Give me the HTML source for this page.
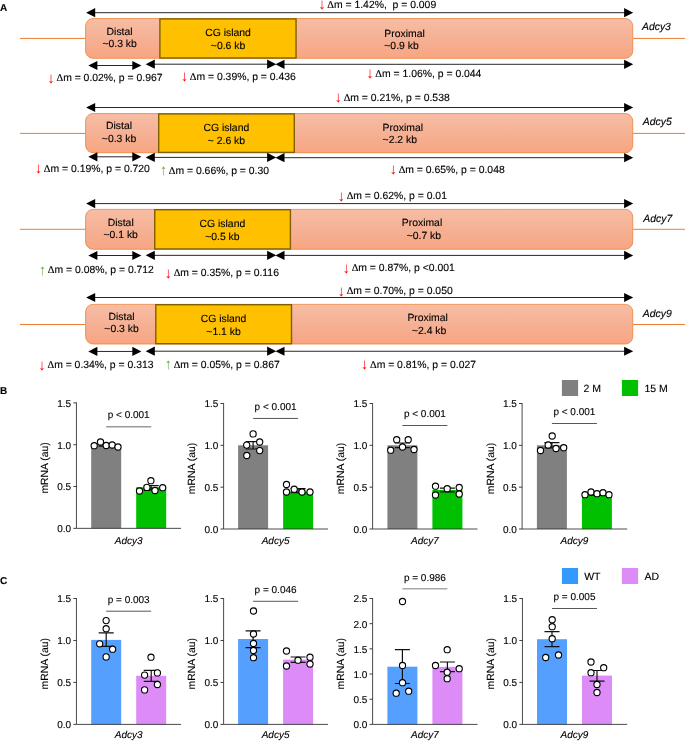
<!DOCTYPE html>
<html lang="en">
<head>
<meta charset="utf-8">
<title>Adcy methylation and mRNA figure</title>
<style>
html,body{margin:0;padding:0;background:#fff;}
body{width:685px;height:741px;overflow:hidden;}
svg{display:block;font-family:"Liberation Sans",Arial,sans-serif;text-rendering:geometricPrecision;}
text{stroke:#000;stroke-width:0.12px;}
</style>
</head>
<body>
<svg width="685" height="741" viewBox="0 0 685 741">
<defs>
<linearGradient id="og" x1="0" y1="0" x2="0" y2="1">
<stop offset="0" stop-color="#f7bda4"/><stop offset="0.5" stop-color="#f5b195"/><stop offset="1" stop-color="#f8a581"/>
</linearGradient>
</defs>
<rect x="0" y="0" width="685" height="741" fill="#fff"/>
<line x1="20" y1="38.4" x2="85.2" y2="38.4" stroke="#ed7d31" stroke-width="1"/>
<line x1="633.15" y1="38.4" x2="685" y2="38.4" stroke="#ed7d31" stroke-width="1"/>
<rect x="85.58" y="18.57" width="547.20" height="39.75" rx="7.5" fill="url(#og)" stroke="#ed7d31" stroke-width="0.75"/>
<rect x="159.90" y="18.90" width="136.15" height="39.10" fill="#ffc000" stroke="#7f6000" stroke-width="1.4"/>
<line x1="94.20" y1="12.70" x2="625.10" y2="12.70" stroke="#000" stroke-width="0.85"/>
<polygon points="86.10,12.70 95.20,8.10 95.20,17.30" fill="#000"/>
<polygon points="633.20,12.70 624.10,8.10 624.10,17.30" fill="#000"/>
<line x1="96.40" y1="65.50" x2="133.30" y2="65.50" stroke="#000" stroke-width="0.85"/>
<polygon points="88.30,65.50 97.40,60.90 97.40,70.10" fill="#000"/>
<polygon points="141.40,65.50 132.30,60.90 132.30,70.10" fill="#000"/>
<line x1="153.80" y1="64.20" x2="268.10" y2="64.20" stroke="#000" stroke-width="0.85"/>
<polygon points="145.70,64.20 154.80,59.60 154.80,68.80" fill="#000"/>
<polygon points="276.20,64.20 267.10,59.60 267.10,68.80" fill="#000"/>
<line x1="283.50" y1="64.30" x2="625.10" y2="64.30" stroke="#000" stroke-width="0.85"/>
<polygon points="275.40,64.30 284.50,59.70 284.50,68.90" fill="#000"/>
<polygon points="633.20,64.30 624.10,59.70 624.10,68.90" fill="#000"/>
<text x="119.60" y="35.10" font-size="10.4" text-anchor="middle" fill="#000"  >Distal</text>
<text x="119.60" y="47.45" font-size="10.4" text-anchor="middle" fill="#000"  >~0.3 kb</text>
<text x="228.00" y="35.90" font-size="10.4" text-anchor="middle" fill="#000"  >CG island</text>
<text x="228.00" y="48.50" font-size="10.4" text-anchor="middle" fill="#000"  >~0.6 kb</text>
<text x="384.30" y="36.85" font-size="10.4" text-anchor="start" fill="#000"  >Proximal</text>
<text x="384.30" y="49.40" font-size="10.4" text-anchor="start" fill="#000"  >~0.9 kb</text>
<text x="642.00" y="30.20" font-size="10.4" text-anchor="start" fill="#000" font-style="italic" >Adcy3</text>
<text y="7.65" font-size="10.4"><tspan x="318.15" y="9.05" font-size="15" fill="#ff0000" stroke="none">↓ </tspan><tspan x="327.25" y="7.65" font-family="Liberation Serif,serif">Δ</tspan>m = 1.42%,&#160; p = 0.009</text>
<text y="81.45" font-size="10.4"><tspan x="47.35" y="82.85" font-size="15" fill="#ff0000" stroke="none">↓ </tspan><tspan x="56.45" y="81.45" font-family="Liberation Serif,serif">Δ</tspan>m = 0.02%, p = 0.967</text>
<text y="79.95" font-size="10.4"><tspan x="180.65" y="81.35" font-size="15" fill="#ff0000" stroke="none">↓ </tspan><tspan x="189.75" y="79.95" font-family="Liberation Serif,serif">Δ</tspan>m = 0.39%, p = 0.436</text>
<text y="76.95" font-size="10.4"><tspan x="366.25" y="78.35" font-size="15" fill="#ff0000" stroke="none">↓ </tspan><tspan x="375.35" y="76.95" font-family="Liberation Serif,serif">Δ</tspan>m = 1.06%, p = 0.044</text>
<line x1="20" y1="133.4" x2="85.2" y2="133.4" stroke="#ed7d31" stroke-width="1"/>
<line x1="633.15" y1="133.4" x2="685" y2="133.4" stroke="#ed7d31" stroke-width="1"/>
<rect x="85.58" y="113.58" width="547.20" height="39.15" rx="7.5" fill="url(#og)" stroke="#ed7d31" stroke-width="0.75"/>
<rect x="158.70" y="113.90" width="135.60" height="38.50" fill="#ffc000" stroke="#7f6000" stroke-width="1.4"/>
<line x1="94.20" y1="107.50" x2="625.10" y2="107.50" stroke="#000" stroke-width="0.85"/>
<polygon points="86.10,107.50 95.20,102.90 95.20,112.10" fill="#000"/>
<polygon points="633.20,107.50 624.10,102.90 624.10,112.10" fill="#000"/>
<line x1="96.40" y1="156.80" x2="133.30" y2="156.80" stroke="#000" stroke-width="0.85"/>
<polygon points="88.30,156.80 97.40,152.20 97.40,161.40" fill="#000"/>
<polygon points="141.40,156.80 132.30,152.20 132.30,161.40" fill="#000"/>
<line x1="153.80" y1="157.40" x2="268.10" y2="157.40" stroke="#000" stroke-width="0.85"/>
<polygon points="145.70,157.40 154.80,152.80 154.80,162.00" fill="#000"/>
<polygon points="276.20,157.40 267.10,152.80 267.10,162.00" fill="#000"/>
<line x1="283.50" y1="157.70" x2="625.10" y2="157.70" stroke="#000" stroke-width="0.85"/>
<polygon points="275.40,157.70 284.50,153.10 284.50,162.30" fill="#000"/>
<polygon points="633.20,157.70 624.10,153.10 624.10,162.30" fill="#000"/>
<text x="119.00" y="129.40" font-size="10.4" text-anchor="middle" fill="#000"  >Distal</text>
<text x="119.00" y="141.75" font-size="10.4" text-anchor="middle" fill="#000"  >~0.3 kb</text>
<text x="226.40" y="130.90" font-size="10.4" text-anchor="middle" fill="#000"  >CG island</text>
<text x="226.40" y="143.50" font-size="10.4" text-anchor="middle" fill="#000"  >~ 2.6 kb</text>
<text x="382.60" y="130.65" font-size="10.4" text-anchor="start" fill="#000"  >Proximal</text>
<text x="382.60" y="142.90" font-size="10.4" text-anchor="start" fill="#000"  >~2.2 kb</text>
<text x="642.80" y="125.20" font-size="10.4" text-anchor="start" fill="#000" font-style="italic" >Adcy5</text>
<text y="100.75" font-size="10.4"><tspan x="334.55" y="102.15" font-size="15" fill="#ff0000" stroke="none">↓ </tspan><tspan x="343.65" y="100.75" font-family="Liberation Serif,serif">Δ</tspan>m = 0.21%, p = 0.538</text>
<text y="171.95" font-size="10.4"><tspan x="34.75" y="173.35" font-size="15" fill="#ff0000" stroke="none">↓ </tspan><tspan x="43.85" y="171.95" font-family="Liberation Serif,serif">Δ</tspan>m = 0.19%, p = 0.720</text>
<text y="173.95" font-size="10.4"><tspan x="159.65" y="175.35" font-size="15" fill="#70ad47" stroke="none">↑ </tspan><tspan x="168.75" y="173.95" font-family="Liberation Serif,serif">Δ</tspan>m = 0.66%, p = 0.30</text>
<text y="172.75" font-size="10.4"><tspan x="389.55" y="174.15" font-size="15" fill="#ff0000" stroke="none">↓ </tspan><tspan x="398.65" y="172.75" font-family="Liberation Serif,serif">Δ</tspan>m = 0.65%, p = 0.048</text>
<line x1="20" y1="229.3" x2="85.2" y2="229.3" stroke="#ed7d31" stroke-width="1"/>
<line x1="633.15" y1="229.3" x2="685" y2="229.3" stroke="#ed7d31" stroke-width="1"/>
<rect x="85.58" y="209.38" width="547.20" height="39.90" rx="7.5" fill="url(#og)" stroke="#ed7d31" stroke-width="0.75"/>
<rect x="154.75" y="209.70" width="135.65" height="39.25" fill="#ffc000" stroke="#7f6000" stroke-width="1.4"/>
<line x1="94.20" y1="203.60" x2="625.10" y2="203.60" stroke="#000" stroke-width="0.85"/>
<polygon points="86.10,203.60 95.20,199.00 95.20,208.20" fill="#000"/>
<polygon points="633.20,203.60 624.10,199.00 624.10,208.20" fill="#000"/>
<line x1="96.40" y1="255.50" x2="133.30" y2="255.50" stroke="#000" stroke-width="0.85"/>
<polygon points="88.30,255.50 97.40,250.90 97.40,260.10" fill="#000"/>
<polygon points="141.40,255.50 132.30,250.90 132.30,260.10" fill="#000"/>
<line x1="153.80" y1="255.35" x2="268.10" y2="255.35" stroke="#000" stroke-width="0.85"/>
<polygon points="145.70,255.35 154.80,250.75 154.80,259.95" fill="#000"/>
<polygon points="276.20,255.35 267.10,250.75 267.10,259.95" fill="#000"/>
<line x1="283.50" y1="255.40" x2="625.10" y2="255.40" stroke="#000" stroke-width="0.85"/>
<polygon points="275.40,255.40 284.50,250.80 284.50,260.00" fill="#000"/>
<polygon points="633.20,255.40 624.10,250.80 624.10,260.00" fill="#000"/>
<text x="120.70" y="225.80" font-size="10.4" text-anchor="middle" fill="#000"  >Distal</text>
<text x="120.70" y="238.45" font-size="10.4" text-anchor="middle" fill="#000"  >~0.1 kb</text>
<text x="222.40" y="227.20" font-size="10.4" text-anchor="middle" fill="#000"  >CG island</text>
<text x="222.40" y="239.70" font-size="10.4" text-anchor="middle" fill="#000"  >~0.5 kb</text>
<text x="422.00" y="225.85" font-size="10.4" text-anchor="middle" fill="#000"  >Proximal</text>
<text x="423.90" y="238.80" font-size="10.4" text-anchor="middle" fill="#000"  >~0.7 kb</text>
<text x="643.30" y="221.90" font-size="10.4" text-anchor="start" fill="#000" font-style="italic" >Adcy7</text>
<text y="199.45" font-size="10.4"><tspan x="337.55" y="200.85" font-size="15" fill="#ff0000" stroke="none">↓ </tspan><tspan x="346.65" y="199.45" font-family="Liberation Serif,serif">Δ</tspan>m = 0.62%, p = 0.01</text>
<text y="273.45" font-size="10.4"><tspan x="38.75" y="274.85" font-size="15" fill="#70ad47" stroke="none">↑ </tspan><tspan x="47.85" y="273.45" font-family="Liberation Serif,serif">Δ</tspan>m = 0.08%, p = 0.712</text>
<text y="276.45" font-size="10.4"><tspan x="164.55" y="277.85" font-size="15" fill="#ff0000" stroke="none">↓ </tspan><tspan x="173.65" y="276.45" font-family="Liberation Serif,serif">Δ</tspan>m = 0.35%, p = 0.116</text>
<text y="271.25" font-size="10.4"><tspan x="342.55" y="272.65" font-size="15" fill="#ff0000" stroke="none">↓ </tspan><tspan x="351.65" y="271.25" font-family="Liberation Serif,serif">Δ</tspan>m = 0.87%, p &lt;0.001</text>
<line x1="20" y1="324.5" x2="85.2" y2="324.5" stroke="#ed7d31" stroke-width="1"/>
<line x1="633.15" y1="324.5" x2="685" y2="324.5" stroke="#ed7d31" stroke-width="1"/>
<rect x="85.58" y="304.38" width="547.20" height="39.65" rx="7.5" fill="url(#og)" stroke="#ed7d31" stroke-width="0.75"/>
<rect x="155.80" y="304.70" width="135.70" height="39.00" fill="#ffc000" stroke="#7f6000" stroke-width="1.4"/>
<line x1="94.20" y1="297.50" x2="625.10" y2="297.50" stroke="#000" stroke-width="0.85"/>
<polygon points="86.10,297.50 95.20,292.90 95.20,302.10" fill="#000"/>
<polygon points="633.20,297.50 624.10,292.90 624.10,302.10" fill="#000"/>
<line x1="96.40" y1="351.45" x2="133.30" y2="351.45" stroke="#000" stroke-width="0.85"/>
<polygon points="88.30,351.45 97.40,346.85 97.40,356.05" fill="#000"/>
<polygon points="141.40,351.45 132.30,346.85 132.30,356.05" fill="#000"/>
<line x1="153.80" y1="351.20" x2="268.10" y2="351.20" stroke="#000" stroke-width="0.85"/>
<polygon points="145.70,351.20 154.80,346.60 154.80,355.80" fill="#000"/>
<polygon points="276.20,351.20 267.10,346.60 267.10,355.80" fill="#000"/>
<line x1="283.50" y1="351.25" x2="625.10" y2="351.25" stroke="#000" stroke-width="0.85"/>
<polygon points="275.40,351.25 284.50,346.65 284.50,355.85" fill="#000"/>
<polygon points="633.20,351.25 624.10,346.65 624.10,355.85" fill="#000"/>
<text x="121.50" y="320.10" font-size="10.4" text-anchor="middle" fill="#000"  >Distal</text>
<text x="121.50" y="332.45" font-size="10.4" text-anchor="middle" fill="#000"  >~0.3 kb</text>
<text x="223.50" y="321.90" font-size="10.4" text-anchor="middle" fill="#000"  >CG island</text>
<text x="223.50" y="334.70" font-size="10.4" text-anchor="middle" fill="#000"  >~1.1 kb</text>
<text x="427.60" y="320.85" font-size="10.4" text-anchor="middle" fill="#000"  >Proximal</text>
<text x="429.10" y="333.80" font-size="10.4" text-anchor="middle" fill="#000"  >~2.4 kb</text>
<text x="642.80" y="317.20" font-size="10.4" text-anchor="start" fill="#000" font-style="italic" >Adcy9</text>
<text y="294.45" font-size="10.4"><tspan x="337.55" y="295.85" font-size="15" fill="#ff0000" stroke="none">↓ </tspan><tspan x="346.65" y="294.45" font-family="Liberation Serif,serif">Δ</tspan>m = 0.70%, p = 0.050</text>
<text y="368.45" font-size="10.4"><tspan x="38.35" y="369.85" font-size="15" fill="#ff0000" stroke="none">↓ </tspan><tspan x="47.45" y="368.45" font-family="Liberation Serif,serif">Δ</tspan>m = 0.34%, p = 0.313</text>
<text y="367.95" font-size="10.4"><tspan x="164.55" y="369.35" font-size="15" fill="#70ad47" stroke="none">↑ </tspan><tspan x="173.65" y="367.95" font-family="Liberation Serif,serif">Δ</tspan>m = 0.05%, p = 0.867</text>
<text y="367.95" font-size="10.4"><tspan x="360.85" y="369.35" font-size="15" fill="#ff0000" stroke="none">↓ </tspan><tspan x="369.95" y="367.95" font-family="Liberation Serif,serif">Δ</tspan>m = 0.81%, p = 0.027</text>
<text x="0.00" y="11.00" font-size="10" text-anchor="start" fill="#000" font-weight="bold" >A</text>
<text x="0.00" y="393.80" font-size="10" text-anchor="start" fill="#000" font-weight="bold" >B</text>
<text x="0.00" y="583.60" font-size="10" text-anchor="start" fill="#000" font-weight="bold" >C</text>
<rect x="91.2" y="445.0" width="30.00" height="83.35" fill="#808080"/>
<rect x="136.2" y="487.2" width="30.00" height="41.15" fill="#00c000"/>
<path d="M76.45 402.4V528.35H181" stroke="#2b2b2b" stroke-width="0.85" fill="none"/>
<line x1="73.35" y1="402.90" x2="76.45" y2="402.90" stroke="#2b2b2b" stroke-width="0.9"/>
<text x="71.15" y="406.75" font-size="10.0" text-anchor="end" fill="#000"  >1.5</text>
<line x1="73.35" y1="444.72" x2="76.45" y2="444.72" stroke="#2b2b2b" stroke-width="0.9"/>
<text x="71.15" y="448.57" font-size="10.0" text-anchor="end" fill="#000"  >1.0</text>
<line x1="73.35" y1="486.53" x2="76.45" y2="486.53" stroke="#2b2b2b" stroke-width="0.9"/>
<text x="71.15" y="490.38" font-size="10.0" text-anchor="end" fill="#000"  >0.5</text>
<line x1="73.35" y1="528.35" x2="76.45" y2="528.35" stroke="#2b2b2b" stroke-width="0.9"/>
<text x="71.15" y="532.20" font-size="10.0" text-anchor="end" fill="#000"  >0.0</text>
<text transform="translate(48.25,467.93) rotate(-90)" font-size="10.4" text-anchor="middle">mRNA (au)</text>
<path d="M98.70 443.6H113.70M98.70 446.2H113.70M106.20 443.6V446.2" stroke="#111" stroke-width="1.2" fill="none"/>
<path d="M143.70 485.6H158.70M143.70 490.2H158.70M151.20 485.6V490.2" stroke="#111" stroke-width="1.2" fill="none"/>
<circle cx="94.2" cy="445.7" r="3.1" fill="#fff" stroke="#000" stroke-width="1.1"/>
<circle cx="100.5" cy="442.0" r="3.1" fill="#fff" stroke="#000" stroke-width="1.1"/>
<circle cx="106.2" cy="445.5" r="3.1" fill="#fff" stroke="#000" stroke-width="1.1"/>
<circle cx="112.2" cy="445.0" r="3.1" fill="#fff" stroke="#000" stroke-width="1.1"/>
<circle cx="118.0" cy="447.0" r="3.1" fill="#fff" stroke="#000" stroke-width="1.1"/>
<circle cx="139.5" cy="491.0" r="3.1" fill="#fff" stroke="#000" stroke-width="1.1"/>
<circle cx="146.9" cy="487.4" r="3.1" fill="#fff" stroke="#000" stroke-width="1.1"/>
<circle cx="150.9" cy="480.7" r="3.1" fill="#fff" stroke="#000" stroke-width="1.1"/>
<circle cx="155.0" cy="490.5" r="3.1" fill="#fff" stroke="#000" stroke-width="1.1"/>
<circle cx="162.7" cy="487.7" r="3.1" fill="#fff" stroke="#000" stroke-width="1.1"/>
<line x1="106.20" y1="426.75" x2="151.20" y2="426.75" stroke="#999" stroke-width="1.3"/>
<text x="128.70" y="418.30" font-size="10.0" text-anchor="middle" fill="#000"  >p &lt; 0.001</text>
<text x="128.70" y="543.60" font-size="10.0" text-anchor="middle" fill="#000" font-style="italic" >Adcy3</text>
<rect x="238.1" y="445.3" width="30.00" height="83.70" fill="#808080"/>
<rect x="283.1" y="491.5" width="30.00" height="37.50" fill="#00c000"/>
<path d="M223.6 403.0V529.0H328" stroke="#2b2b2b" stroke-width="0.85" fill="none"/>
<line x1="220.50" y1="403.50" x2="223.6" y2="403.50" stroke="#2b2b2b" stroke-width="0.9"/>
<text x="218.30" y="407.35" font-size="10.0" text-anchor="end" fill="#000"  >1.5</text>
<line x1="220.50" y1="445.33" x2="223.6" y2="445.33" stroke="#2b2b2b" stroke-width="0.9"/>
<text x="218.30" y="449.18" font-size="10.0" text-anchor="end" fill="#000"  >1.0</text>
<line x1="220.50" y1="487.17" x2="223.6" y2="487.17" stroke="#2b2b2b" stroke-width="0.9"/>
<text x="218.30" y="491.02" font-size="10.0" text-anchor="end" fill="#000"  >0.5</text>
<line x1="220.50" y1="529.00" x2="223.6" y2="529.00" stroke="#2b2b2b" stroke-width="0.9"/>
<text x="218.30" y="532.85" font-size="10.0" text-anchor="end" fill="#000"  >0.0</text>
<text transform="translate(195.40,468.55) rotate(-90)" font-size="10.4" text-anchor="middle">mRNA (au)</text>
<path d="M245.60 441.6H260.60M245.60 449.0H260.60M253.10 441.6V449.0" stroke="#111" stroke-width="1.2" fill="none"/>
<path d="M290.60 488.6H305.60M290.60 492.6H305.60M298.10 488.6V492.6" stroke="#111" stroke-width="1.2" fill="none"/>
<circle cx="253.1" cy="433.9" r="3.1" fill="#fff" stroke="#000" stroke-width="1.1"/>
<circle cx="246.7" cy="445.1" r="3.1" fill="#fff" stroke="#000" stroke-width="1.1"/>
<circle cx="259.7" cy="442.0" r="3.1" fill="#fff" stroke="#000" stroke-width="1.1"/>
<circle cx="259.7" cy="450.6" r="3.1" fill="#fff" stroke="#000" stroke-width="1.1"/>
<circle cx="246.8" cy="455.5" r="3.1" fill="#fff" stroke="#000" stroke-width="1.1"/>
<circle cx="286.5" cy="484.5" r="3.1" fill="#fff" stroke="#000" stroke-width="1.1"/>
<circle cx="286.5" cy="492.0" r="3.1" fill="#fff" stroke="#000" stroke-width="1.1"/>
<circle cx="294.2" cy="489.2" r="3.1" fill="#fff" stroke="#000" stroke-width="1.1"/>
<circle cx="302.0" cy="492.0" r="3.1" fill="#fff" stroke="#000" stroke-width="1.1"/>
<circle cx="310.0" cy="492.0" r="3.1" fill="#fff" stroke="#000" stroke-width="1.1"/>
<line x1="253.10" y1="418.45" x2="298.10" y2="418.45" stroke="#3a3a3a" stroke-width="0.85"/>
<text x="275.60" y="410.20" font-size="10.0" text-anchor="middle" fill="#000"  >p &lt; 0.001</text>
<text x="275.60" y="543.80" font-size="10.0" text-anchor="middle" fill="#000" font-style="italic" >Adcy5</text>
<rect x="387.4" y="445.3" width="30.00" height="83.70" fill="#808080"/>
<rect x="432.4" y="490.0" width="30.00" height="39.00" fill="#00c000"/>
<path d="M372.6 403.0V529.0H477.5" stroke="#2b2b2b" stroke-width="0.85" fill="none"/>
<line x1="369.50" y1="403.50" x2="372.6" y2="403.50" stroke="#2b2b2b" stroke-width="0.9"/>
<text x="367.30" y="407.35" font-size="10.0" text-anchor="end" fill="#000"  >1.5</text>
<line x1="369.50" y1="445.33" x2="372.6" y2="445.33" stroke="#2b2b2b" stroke-width="0.9"/>
<text x="367.30" y="449.18" font-size="10.0" text-anchor="end" fill="#000"  >1.0</text>
<line x1="369.50" y1="487.17" x2="372.6" y2="487.17" stroke="#2b2b2b" stroke-width="0.9"/>
<text x="367.30" y="491.02" font-size="10.0" text-anchor="end" fill="#000"  >0.5</text>
<line x1="369.50" y1="529.00" x2="372.6" y2="529.00" stroke="#2b2b2b" stroke-width="0.9"/>
<text x="367.30" y="532.85" font-size="10.0" text-anchor="end" fill="#000"  >0.0</text>
<text transform="translate(344.40,468.55) rotate(-90)" font-size="10.4" text-anchor="middle">mRNA (au)</text>
<path d="M394.90 443.0H409.90M394.90 447.6H409.90M402.40 443.0V447.6" stroke="#111" stroke-width="1.2" fill="none"/>
<path d="M439.90 488.2H454.90M439.90 491.8H454.90M447.40 488.2V491.8" stroke="#111" stroke-width="1.2" fill="none"/>
<circle cx="396.7" cy="439.7" r="3.1" fill="#fff" stroke="#000" stroke-width="1.1"/>
<circle cx="408.2" cy="439.7" r="3.1" fill="#fff" stroke="#000" stroke-width="1.1"/>
<circle cx="402.5" cy="447.0" r="3.1" fill="#fff" stroke="#000" stroke-width="1.1"/>
<circle cx="390.7" cy="450.2" r="3.1" fill="#fff" stroke="#000" stroke-width="1.1"/>
<circle cx="414.0" cy="449.5" r="3.1" fill="#fff" stroke="#000" stroke-width="1.1"/>
<circle cx="435.5" cy="486.2" r="3.1" fill="#fff" stroke="#000" stroke-width="1.1"/>
<circle cx="435.5" cy="495.0" r="3.1" fill="#fff" stroke="#000" stroke-width="1.1"/>
<circle cx="447.2" cy="488.7" r="3.1" fill="#fff" stroke="#000" stroke-width="1.1"/>
<circle cx="459.2" cy="487.5" r="3.1" fill="#fff" stroke="#000" stroke-width="1.1"/>
<circle cx="459.2" cy="494.0" r="3.1" fill="#fff" stroke="#000" stroke-width="1.1"/>
<line x1="402.40" y1="425.5" x2="447.40" y2="425.5" stroke="#3a3a3a" stroke-width="0.85"/>
<text x="424.90" y="417.20" font-size="10.0" text-anchor="middle" fill="#000"  >p &lt; 0.001</text>
<text x="424.90" y="543.80" font-size="10.0" text-anchor="middle" fill="#000" font-style="italic" >Adcy7</text>
<rect x="536.9" y="445.3" width="30.00" height="83.70" fill="#808080"/>
<rect x="581.9" y="494.5" width="30.00" height="34.50" fill="#00c000"/>
<path d="M522.1 403.0V529.0H627.2" stroke="#2b2b2b" stroke-width="0.85" fill="none"/>
<line x1="519.00" y1="403.50" x2="522.1" y2="403.50" stroke="#2b2b2b" stroke-width="0.9"/>
<text x="516.80" y="407.35" font-size="10.0" text-anchor="end" fill="#000"  >1.5</text>
<line x1="519.00" y1="445.33" x2="522.1" y2="445.33" stroke="#2b2b2b" stroke-width="0.9"/>
<text x="516.80" y="449.18" font-size="10.0" text-anchor="end" fill="#000"  >1.0</text>
<line x1="519.00" y1="487.17" x2="522.1" y2="487.17" stroke="#2b2b2b" stroke-width="0.9"/>
<text x="516.80" y="491.02" font-size="10.0" text-anchor="end" fill="#000"  >0.5</text>
<line x1="519.00" y1="529.00" x2="522.1" y2="529.00" stroke="#2b2b2b" stroke-width="0.9"/>
<text x="516.80" y="532.85" font-size="10.0" text-anchor="end" fill="#000"  >0.0</text>
<text transform="translate(493.90,468.55) rotate(-90)" font-size="10.4" text-anchor="middle">mRNA (au)</text>
<path d="M544.40 442.6H559.40M544.40 448.0H559.40M551.90 442.6V448.0" stroke="#111" stroke-width="1.2" fill="none"/>
<path d="M589.40 493.4H604.40M589.40 495.2H604.40M596.90 493.4V495.2" stroke="#111" stroke-width="1.2" fill="none"/>
<circle cx="552.2" cy="436.0" r="3.1" fill="#fff" stroke="#000" stroke-width="1.1"/>
<circle cx="548.2" cy="445.0" r="3.1" fill="#fff" stroke="#000" stroke-width="1.1"/>
<circle cx="540.5" cy="450.5" r="3.1" fill="#fff" stroke="#000" stroke-width="1.1"/>
<circle cx="556.0" cy="448.5" r="3.1" fill="#fff" stroke="#000" stroke-width="1.1"/>
<circle cx="563.7" cy="447.7" r="3.1" fill="#fff" stroke="#000" stroke-width="1.1"/>
<circle cx="585.0" cy="494.7" r="3.1" fill="#fff" stroke="#000" stroke-width="1.1"/>
<circle cx="591.0" cy="492.0" r="3.1" fill="#fff" stroke="#000" stroke-width="1.1"/>
<circle cx="597.0" cy="493.7" r="3.1" fill="#fff" stroke="#000" stroke-width="1.1"/>
<circle cx="603.0" cy="492.7" r="3.1" fill="#fff" stroke="#000" stroke-width="1.1"/>
<circle cx="609.0" cy="494.7" r="3.1" fill="#fff" stroke="#000" stroke-width="1.1"/>
<line x1="551.90" y1="423.5" x2="596.90" y2="423.5" stroke="#3a3a3a" stroke-width="0.85"/>
<text x="574.40" y="415.30" font-size="10.0" text-anchor="middle" fill="#000"  >p &lt; 0.001</text>
<text x="574.40" y="543.80" font-size="10.0" text-anchor="middle" fill="#000" font-style="italic" >Adcy9</text>
<rect x="91.2" y="639.9" width="30.00" height="84.50" fill="#55a0ff"/>
<rect x="136.2" y="675.8" width="30.00" height="48.60" fill="#dd8bf7"/>
<path d="M76.45 598.0V724.4H181" stroke="#2b2b2b" stroke-width="0.85" fill="none"/>
<line x1="73.35" y1="598.50" x2="76.45" y2="598.50" stroke="#2b2b2b" stroke-width="0.9"/>
<text x="71.15" y="602.35" font-size="10.0" text-anchor="end" fill="#000"  >1.5</text>
<line x1="73.35" y1="640.47" x2="76.45" y2="640.47" stroke="#2b2b2b" stroke-width="0.9"/>
<text x="71.15" y="644.32" font-size="10.0" text-anchor="end" fill="#000"  >1.0</text>
<line x1="73.35" y1="682.43" x2="76.45" y2="682.43" stroke="#2b2b2b" stroke-width="0.9"/>
<text x="71.15" y="686.28" font-size="10.0" text-anchor="end" fill="#000"  >0.5</text>
<line x1="73.35" y1="724.40" x2="76.45" y2="724.40" stroke="#2b2b2b" stroke-width="0.9"/>
<text x="71.15" y="728.25" font-size="10.0" text-anchor="end" fill="#000"  >0.0</text>
<text transform="translate(48.25,663.75) rotate(-90)" font-size="10.4" text-anchor="middle">mRNA (au)</text>
<path d="M98.70 632.8H113.70M98.70 646.3H113.70M106.20 632.8V646.3" stroke="#111" stroke-width="1.2" fill="none"/>
<path d="M143.70 670.4H158.70M143.70 681.3H158.70M151.20 670.4V681.3" stroke="#111" stroke-width="1.2" fill="none"/>
<circle cx="106.15" cy="620.6" r="3.1" fill="#fff" stroke="#000" stroke-width="1.1"/>
<circle cx="106.15" cy="628.7" r="3.1" fill="#fff" stroke="#000" stroke-width="1.1"/>
<circle cx="99.7" cy="643.8" r="3.1" fill="#fff" stroke="#000" stroke-width="1.1"/>
<circle cx="112.6" cy="649.2" r="3.1" fill="#fff" stroke="#000" stroke-width="1.1"/>
<circle cx="106.15" cy="656.9" r="3.1" fill="#fff" stroke="#000" stroke-width="1.1"/>
<circle cx="151.0" cy="657.2" r="3.1" fill="#fff" stroke="#000" stroke-width="1.1"/>
<circle cx="144.6" cy="675.1" r="3.1" fill="#fff" stroke="#000" stroke-width="1.1"/>
<circle cx="157.4" cy="672.9" r="3.1" fill="#fff" stroke="#000" stroke-width="1.1"/>
<circle cx="157.4" cy="684.5" r="3.1" fill="#fff" stroke="#000" stroke-width="1.1"/>
<circle cx="144.6" cy="689.9" r="3.1" fill="#fff" stroke="#000" stroke-width="1.1"/>
<line x1="106.20" y1="611.2" x2="151.20" y2="611.2" stroke="#3a3a3a" stroke-width="0.85"/>
<text x="128.70" y="603.00" font-size="10.0" text-anchor="middle" fill="#000"  >p = 0.003</text>
<text x="128.70" y="738.20" font-size="10.0" text-anchor="middle" fill="#000" font-style="italic" >Adcy3</text>
<rect x="238.1" y="639.0" width="30.00" height="85.40" fill="#55a0ff"/>
<rect x="283.1" y="659.6" width="30.00" height="64.80" fill="#dd8bf7"/>
<path d="M223.6 598.0V724.4H328" stroke="#2b2b2b" stroke-width="0.85" fill="none"/>
<line x1="220.50" y1="598.50" x2="223.6" y2="598.50" stroke="#2b2b2b" stroke-width="0.9"/>
<text x="218.30" y="602.35" font-size="10.0" text-anchor="end" fill="#000"  >1.5</text>
<line x1="220.50" y1="640.47" x2="223.6" y2="640.47" stroke="#2b2b2b" stroke-width="0.9"/>
<text x="218.30" y="644.32" font-size="10.0" text-anchor="end" fill="#000"  >1.0</text>
<line x1="220.50" y1="682.43" x2="223.6" y2="682.43" stroke="#2b2b2b" stroke-width="0.9"/>
<text x="218.30" y="686.28" font-size="10.0" text-anchor="end" fill="#000"  >0.5</text>
<line x1="220.50" y1="724.40" x2="223.6" y2="724.40" stroke="#2b2b2b" stroke-width="0.9"/>
<text x="218.30" y="728.25" font-size="10.0" text-anchor="end" fill="#000"  >0.0</text>
<text transform="translate(195.40,663.75) rotate(-90)" font-size="10.4" text-anchor="middle">mRNA (au)</text>
<path d="M245.60 630.9H260.60M245.60 647.6H260.60M253.10 630.9V647.6" stroke="#111" stroke-width="1.2" fill="none"/>
<path d="M290.60 657.0H305.60M290.60 662.3H305.60M298.10 657.0V662.3" stroke="#111" stroke-width="1.2" fill="none"/>
<circle cx="253.5" cy="611.0" r="3.1" fill="#fff" stroke="#000" stroke-width="1.1"/>
<circle cx="253.5" cy="634.0" r="3.1" fill="#fff" stroke="#000" stroke-width="1.1"/>
<circle cx="253.5" cy="643.5" r="3.1" fill="#fff" stroke="#000" stroke-width="1.1"/>
<circle cx="253.5" cy="650.5" r="3.1" fill="#fff" stroke="#000" stroke-width="1.1"/>
<circle cx="253.5" cy="657.7" r="3.1" fill="#fff" stroke="#000" stroke-width="1.1"/>
<circle cx="286.5" cy="651.0" r="3.1" fill="#fff" stroke="#000" stroke-width="1.1"/>
<circle cx="286.5" cy="666.0" r="3.1" fill="#fff" stroke="#000" stroke-width="1.1"/>
<circle cx="298.0" cy="660.2" r="3.1" fill="#fff" stroke="#000" stroke-width="1.1"/>
<circle cx="310.0" cy="657.2" r="3.1" fill="#fff" stroke="#000" stroke-width="1.1"/>
<circle cx="310.0" cy="664.0" r="3.1" fill="#fff" stroke="#000" stroke-width="1.1"/>
<line x1="253.10" y1="601.3" x2="298.10" y2="601.3" stroke="#3a3a3a" stroke-width="0.85"/>
<text x="275.60" y="592.70" font-size="10.0" text-anchor="middle" fill="#000"  >p = 0.046</text>
<text x="275.60" y="738.20" font-size="10.0" text-anchor="middle" fill="#000" font-style="italic" >Adcy5</text>
<rect x="387.4" y="666.7" width="30.00" height="57.70" fill="#55a0ff"/>
<rect x="432.4" y="666.9" width="30.00" height="57.50" fill="#dd8bf7"/>
<path d="M372.6 598.0V724.4H477.5" stroke="#2b2b2b" stroke-width="0.85" fill="none"/>
<line x1="369.50" y1="598.50" x2="372.6" y2="598.50" stroke="#2b2b2b" stroke-width="0.9"/>
<text x="367.30" y="602.35" font-size="10.0" text-anchor="end" fill="#000"  >2.5</text>
<line x1="369.50" y1="623.68" x2="372.6" y2="623.68" stroke="#2b2b2b" stroke-width="0.9"/>
<text x="367.30" y="627.53" font-size="10.0" text-anchor="end" fill="#000"  >2.0</text>
<line x1="369.50" y1="648.86" x2="372.6" y2="648.86" stroke="#2b2b2b" stroke-width="0.9"/>
<text x="367.30" y="652.71" font-size="10.0" text-anchor="end" fill="#000"  >1.5</text>
<line x1="369.50" y1="674.04" x2="372.6" y2="674.04" stroke="#2b2b2b" stroke-width="0.9"/>
<text x="367.30" y="677.89" font-size="10.0" text-anchor="end" fill="#000"  >1.0</text>
<line x1="369.50" y1="699.22" x2="372.6" y2="699.22" stroke="#2b2b2b" stroke-width="0.9"/>
<text x="367.30" y="703.07" font-size="10.0" text-anchor="end" fill="#000"  >0.5</text>
<line x1="369.50" y1="724.40" x2="372.6" y2="724.40" stroke="#2b2b2b" stroke-width="0.9"/>
<text x="367.30" y="728.25" font-size="10.0" text-anchor="end" fill="#000"  >0.0</text>
<text transform="translate(344.40,663.75) rotate(-90)" font-size="10.4" text-anchor="middle">mRNA (au)</text>
<path d="M394.90 649.7H409.90M394.90 683.5H409.90M402.40 649.7V683.5" stroke="#111" stroke-width="1.2" fill="none"/>
<path d="M439.90 662.0H454.90M439.90 671.7H454.90M447.40 662.0V671.7" stroke="#111" stroke-width="1.2" fill="none"/>
<circle cx="402.5" cy="601.5" r="3.1" fill="#fff" stroke="#000" stroke-width="1.1"/>
<circle cx="402.5" cy="665.5" r="3.1" fill="#fff" stroke="#000" stroke-width="1.1"/>
<circle cx="402.5" cy="682.7" r="3.1" fill="#fff" stroke="#000" stroke-width="1.1"/>
<circle cx="396.2" cy="693.2" r="3.1" fill="#fff" stroke="#000" stroke-width="1.1"/>
<circle cx="408.7" cy="691.2" r="3.1" fill="#fff" stroke="#000" stroke-width="1.1"/>
<circle cx="447.2" cy="649.7" r="3.1" fill="#fff" stroke="#000" stroke-width="1.1"/>
<circle cx="435.5" cy="665.5" r="3.1" fill="#fff" stroke="#000" stroke-width="1.1"/>
<circle cx="459.2" cy="668.7" r="3.1" fill="#fff" stroke="#000" stroke-width="1.1"/>
<circle cx="447.2" cy="672.2" r="3.1" fill="#fff" stroke="#000" stroke-width="1.1"/>
<circle cx="447.2" cy="678.7" r="3.1" fill="#fff" stroke="#000" stroke-width="1.1"/>
<line x1="402.40" y1="588.8" x2="447.40" y2="588.8" stroke="#a8a8a8" stroke-width="1.5"/>
<text x="424.90" y="580.50" font-size="10.0" text-anchor="middle" fill="#000"  >p = 0.986</text>
<text x="424.90" y="738.20" font-size="10.0" text-anchor="middle" fill="#000" font-style="italic" >Adcy7</text>
<rect x="537" y="639.2" width="30.00" height="85.20" fill="#55a0ff"/>
<rect x="582" y="675.6" width="30.00" height="48.80" fill="#dd8bf7"/>
<path d="M522.45 598.0V724.4H627.2" stroke="#2b2b2b" stroke-width="0.85" fill="none"/>
<line x1="519.35" y1="598.50" x2="522.45" y2="598.50" stroke="#2b2b2b" stroke-width="0.9"/>
<text x="517.15" y="602.35" font-size="10.0" text-anchor="end" fill="#000"  >1.5</text>
<line x1="519.35" y1="640.47" x2="522.45" y2="640.47" stroke="#2b2b2b" stroke-width="0.9"/>
<text x="517.15" y="644.32" font-size="10.0" text-anchor="end" fill="#000"  >1.0</text>
<line x1="519.35" y1="682.43" x2="522.45" y2="682.43" stroke="#2b2b2b" stroke-width="0.9"/>
<text x="517.15" y="686.28" font-size="10.0" text-anchor="end" fill="#000"  >0.5</text>
<line x1="519.35" y1="724.40" x2="522.45" y2="724.40" stroke="#2b2b2b" stroke-width="0.9"/>
<text x="517.15" y="728.25" font-size="10.0" text-anchor="end" fill="#000"  >0.0</text>
<text transform="translate(494.25,663.75) rotate(-90)" font-size="10.4" text-anchor="middle">mRNA (au)</text>
<path d="M544.50 631.7H559.50M544.50 646.7H559.50M552.00 631.7V646.7" stroke="#111" stroke-width="1.2" fill="none"/>
<path d="M589.50 670.5H604.50M589.50 681.2H604.50M597.00 670.5V681.2" stroke="#111" stroke-width="1.2" fill="none"/>
<circle cx="552.2" cy="619.7" r="3.1" fill="#fff" stroke="#000" stroke-width="1.1"/>
<circle cx="552.2" cy="626.7" r="3.1" fill="#fff" stroke="#000" stroke-width="1.1"/>
<circle cx="552.2" cy="638.7" r="3.1" fill="#fff" stroke="#000" stroke-width="1.1"/>
<circle cx="545.7" cy="657.5" r="3.1" fill="#fff" stroke="#000" stroke-width="1.1"/>
<circle cx="558.5" cy="655.0" r="3.1" fill="#fff" stroke="#000" stroke-width="1.1"/>
<circle cx="591.0" cy="662.0" r="3.1" fill="#fff" stroke="#000" stroke-width="1.1"/>
<circle cx="603.7" cy="667.7" r="3.1" fill="#fff" stroke="#000" stroke-width="1.1"/>
<circle cx="591.0" cy="672.7" r="3.1" fill="#fff" stroke="#000" stroke-width="1.1"/>
<circle cx="597.0" cy="684.5" r="3.1" fill="#fff" stroke="#000" stroke-width="1.1"/>
<circle cx="597.0" cy="692.5" r="3.1" fill="#fff" stroke="#000" stroke-width="1.1"/>
<line x1="552.00" y1="608.5" x2="597.00" y2="608.5" stroke="#3a3a3a" stroke-width="0.85"/>
<text x="574.50" y="600.00" font-size="10.0" text-anchor="middle" fill="#000"  >p = 0.005</text>
<text x="574.50" y="738.20" font-size="10.0" text-anchor="middle" fill="#000" font-style="italic" >Adcy9</text>
<rect x="561.9" y="380.0" width="16.2" height="16" fill="#808080"/>
<rect x="621.9" y="380.0" width="16.2" height="16" fill="#00c000"/>
<text x="583.60" y="392.20" font-size="10.5" text-anchor="start" fill="#000"  >2 M</text>
<text x="644.40" y="392.20" font-size="10.5" text-anchor="start" fill="#000"  >15 M</text>
<rect x="561.9" y="568.0" width="16.2" height="16" fill="#3399ff"/>
<rect x="621.9" y="568.0" width="16.2" height="16" fill="#dd8bf7"/>
<text x="584.20" y="580.20" font-size="10.5" text-anchor="start" fill="#000"  >WT</text>
<text x="644.60" y="580.20" font-size="10.5" text-anchor="start" fill="#000"  >AD</text>
</svg>
</body>
</html>
